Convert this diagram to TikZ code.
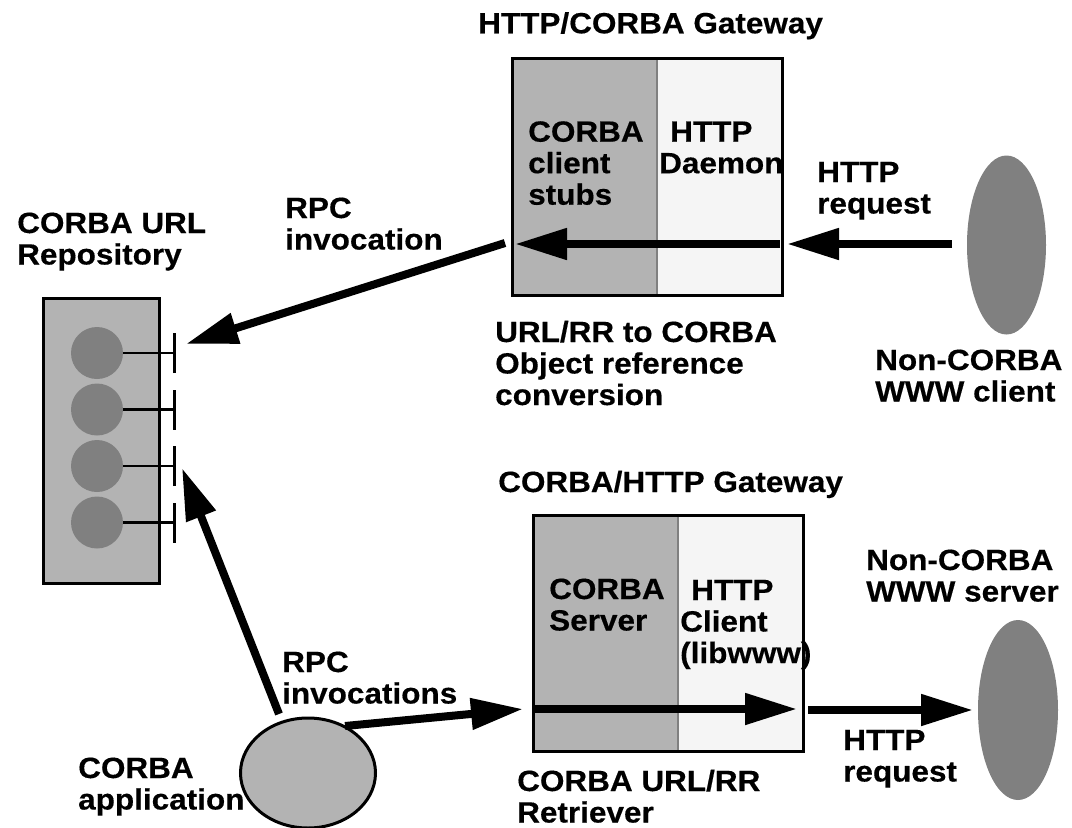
\documentclass[tikz,border=0pt]{standalone}
\usepackage{fontspec}
\setmainfont{Liberation Sans}[FakeStretch=1.075, BoldFeatures={FakeBold=0.4}]
\usetikzlibrary{arrows.meta,shapes.geometric}
\definecolor{midgray}{HTML}{B3B3B3}
\definecolor{darkfill}{HTML}{808080}
\definecolor{lightfill}{HTML}{F5F5F5}
\newcommand{\mlines}[1]{\begin{tabular}[t]{@{}l@{}}#1\end{tabular}}
\begin{document}
\begin{tikzpicture}[x=1pt,y=-1pt,
  lbl/.style={font=\fontsize{29.3}{31.5}\selectfont\bfseries, inner sep=0pt, anchor=base west},
  flow/.style={line width=8pt, -{Triangle[length=52pt,width=30pt]}},
  frame/.style={draw=black, line width=3pt, inner sep=0pt},
  half/.style={inner sep=0pt, anchor=north west},
  divider/.style={draw=darkfill, line width=2pt},
  blob/.style={ellipse, fill=darkfill, inner sep=0pt},
]
\useasboundingbox (0,0) rectangle (1072,828);

% ---------- CORBA URL Repository ----------
\node[frame, fill=midgray, minimum width=116pt, minimum height=285pt] (repo) at (101.5,441) {};
\foreach \i/\y in {1/353,2/409.5,3/466,4/522.5} {
  \node[circle, fill=darkfill, inner sep=0pt, minimum size=52pt] (obj\i) at (97,\y) {};
  \coordinate (port\i) at (174,\y);
  \draw[line width=2.5pt] (obj\i.east) -- (port\i);
  \draw[line width=3pt] ([yshift=-20pt]port\i) -- ([yshift=20pt]port\i);
}

% ---------- HTTP/CORBA Gateway ----------
\node[half, fill=midgray, minimum width=144.5pt, minimum height=237pt] (gw1l) at (512.5,58.2) {};
\node[half, fill=lightfill, minimum width=125.5pt, minimum height=237pt] (gw1r) at (657,58.2) {};
\draw[divider] (gw1r.north west) -- (gw1r.south west);
\node[frame, minimum width=270pt, minimum height=237pt] (gw1) at (647.5,176.7) {};
\coordinate (gw1in) at (780,244);
\coordinate (gw1out) at (515,244);
\draw[flow] (gw1in) -- (gw1out);

% ---------- Non-CORBA WWW client ----------
\node[blob, minimum width=79pt, minimum height=179pt] (client) at (1006.5,245) {};
\coordinate (reqstart) at (952,244);
\coordinate (reqend) at (787,244);
\draw[flow] (reqstart) -- (reqend);

% gateway -> repository
\coordinate (rpcAstart) at (505,243);
\coordinate (rpcAend) at (186,344);
\draw[flow] (rpcAstart) -- (rpcAend);

% ---------- CORBA/HTTP Gateway ----------
\node[half, fill=midgray, minimum width=144.5pt, minimum height=236pt] (gw2l) at (533.5,515.5) {};
\node[half, fill=lightfill, minimum width=125.5pt, minimum height=236pt] (gw2r) at (678,515.5) {};
\draw[divider] (gw2r.north west) -- (gw2r.south west);
\node[frame, minimum width=270pt, minimum height=236pt] (gw2) at (668.5,633.5) {};
\coordinate (gw2in) at (532,709);
\coordinate (gw2out) at (797,709);
\draw[flow] (gw2in) -- (gw2out);

% ---------- Non-CORBA WWW server ----------
\node[blob, minimum width=80pt, minimum height=180pt] (server) at (1018,710) {};
\coordinate (req2start) at (808,710);
\coordinate (req2end) at (973,710);
\draw[flow] (req2start) -- (req2end);

% ---------- CORBA application ----------
\node[ellipse, draw=black, line width=3pt, fill=midgray, inner sep=0pt, minimum width=135pt, minimum height=110pt] (app) at (308,773) {};
\coordinate (appA) at (279,714);
\coordinate (appAend) at (182,468);
\draw[flow] (appA) -- (appAend);
\coordinate (appB) at (345,726);
\coordinate (appBend) at (523,709);
\draw[flow] (appB) -- (appBend);

% ---------- Labels ----------
\node[lbl] (title1) at (478,33.3) {HTTP/CORBA Gateway};
\node[lbl] (title2) at (498,492) {CORBA/HTTP Gateway};
\node[lbl] (repolbl) at (17,233) {\mlines{CORBA URL\\Repository}};
\node[lbl] (rpc1) at (285,218) {\mlines{RPC\\invocation}};
\node[lbl] (stubs) at (528,141.7) {\mlines{CORBA\\client\\stubs}};
\node[lbl] (daemon) at (659,141.7) {\mlines{\hspace*{11pt}HTTP\\Daemon}};
\node[lbl] (req1) at (817,182) {\mlines{HTTP\\request}};
\node[lbl] (conv) at (495,342) {\mlines{URL/RR to CORBA\\Object reference\\conversion}};
\node[lbl] (clientlbl) at (875,370) {\mlines{Non-CORBA\\WWW client}};
\node[lbl] (serverlbl) at (866,570) {\mlines{Non-CORBA\\WWW server}};
\node[lbl] (srv) at (549,599) {\mlines{CORBA\\Server}};
\node[lbl] (httpc) at (680,600) {\mlines{\hspace*{11pt}HTTP\\Client\\(libwww)}};
\node[lbl] (req2) at (843,750) {\mlines{HTTP\\request}};
\node[lbl] (retr) at (517,791) {\mlines{CORBA URL/RR\\Retriever}};
\node[lbl] (rpc2) at (282,672) {\mlines{RPC\\invocations}};
\node[lbl] (applbl) at (78,778) {\mlines{CORBA\\application}};
\end{tikzpicture}
\end{document}
